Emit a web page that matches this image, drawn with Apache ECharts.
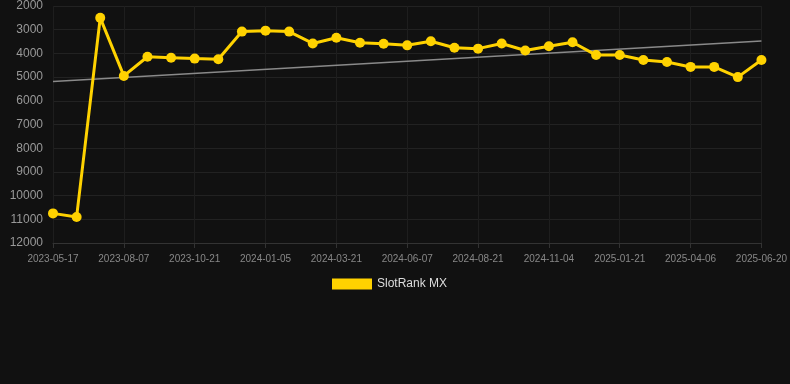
<!DOCTYPE html>
<html>
<head>
<meta charset="utf-8">
<script src="https://cdn.jsdelivr.net/npm/echarts@6/dist/echarts.min.js"></script>
<style>
  html, body { margin: 0; padding: 0; background: #111111; }
  #chart { width: 790px; height: 384px; }
</style>
</head>
<body>
<div id="chart"></div>
<script>
// chart data
const dates = [
    "2023-05-17", "2023-06-13", "2023-07-10", "2023-08-07", "2023-09-01", "2023-09-26",
    "2023-10-21", "2023-11-15", "2023-12-10", "2024-01-05", "2024-01-30", "2024-02-24",
    "2024-03-21", "2024-04-15", "2024-05-12", "2024-06-07", "2024-07-02", "2024-07-27",
    "2024-08-21", "2024-09-15", "2024-10-10", "2024-11-04", "2024-11-30", "2024-12-26",
    "2025-01-21", "2025-02-14", "2025-03-12", "2025-04-06", "2025-05-01", "2025-05-26",
    "2025-06-20"
];
const ranks = [
    10750, 10900, 2500, 4950, 4140, 4180, 4220, 4250, 3080, 3040, 3080, 3580,
    3340, 3550, 3590, 3660, 3490, 3760, 3800, 3580, 3880, 3700, 3530, 4070,
    4070, 4280, 4360, 4570, 4570, 5000, 4280
];
// trend line end points [categoryIndex, rank]
const trend = [[0, 5190], [30, 3480]];
const yTicks = { min: 2000, max: 12000, step: 1000 };

const chart = echarts.init(document.getElementById("chart"));

const option = {
    backgroundColor: "#111111",
    animation: false,
    grid: {
        left: 53,
        right: 28,
        top: 6,
        bottom: 141,
    },
    legend: {
        top: 273,
        left: 327,
        icon: "rect",
        itemWidth: 40,
        itemHeight: 11,
        data: ["SlotRank MX"],
        textStyle: {
            color: "#dddddd",
            fontSize: 12,
            fontFamily: "Arial, 'Liberation Sans', sans-serif",
        },
    },
    xAxis: {
        type: "category",
        data: dates,
        boundaryGap: false,
        axisLine: { lineStyle: { color: "#333333" } },
        axisTick: { show: true, interval: 2, lineStyle: { color: "#333333" } },
        axisLabel: {
            interval: 2,
            color: "#888888",
            fontSize: 10,
            margin: 11,
            fontFamily: "Arial, 'Liberation Sans', sans-serif",
        },
        splitLine: {
            show: true,
            interval: 2,
            lineStyle: { color: "#1e1e1e" },
        },
    },
    yAxis: {
        type: "value",
        inverse: true,
        min: yTicks.min,
        max: yTicks.max,
        interval: yTicks.step,
        axisLine: { show: false },
        axisTick: { show: false },
        axisLabel: {
            color: "#999999",
            fontSize: 12,
            margin: 10,
            formatter: (v) => String(v),
            fontFamily: "Arial, 'Liberation Sans', sans-serif",
        },
        splitLine: { lineStyle: { color: "#222222" } },
    },
    series: [
        {
            name: "SlotRank MX",
            type: "line",
            data: ranks,
            symbol: "circle",
            symbolSize: 10,
            lineStyle: { color: "#ffd200", width: 3 },
            itemStyle: { color: "#ffd200" },
            z: 3,
        },
        {
            name: "trend",
            type: "line",
            data: trend,
            symbol: "none",
            lineStyle: { color: "#8a8a8a", width: 1.5 },
            z: 2,
        },
    ],
};

chart.setOption(option);
</script>
</body>
</html>
